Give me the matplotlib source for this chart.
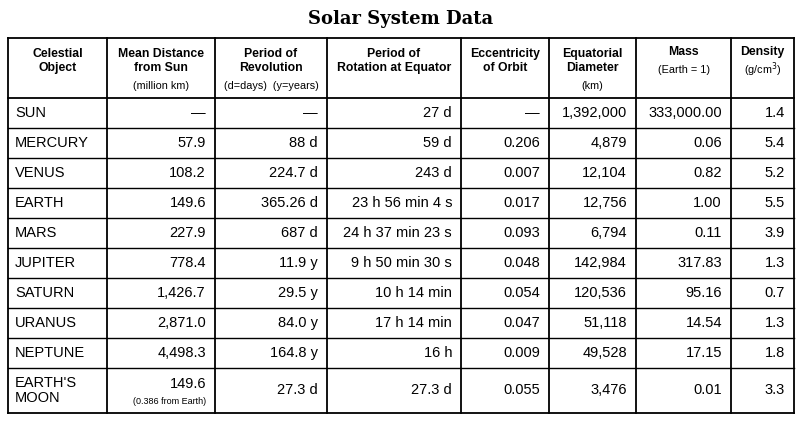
import matplotlib.pyplot as plt

# table contents
headers = ["Celestial\nObject", "Mean Distance\nfrom Sun", "Period of\nRevolution",
           "Period of\nRotation at Equator", "Eccentricity\nof Orbit", "Equatorial\nDiameter",
           "Mass", "Density"]
subheads = ["", "(million km)", "(d=days)  (y=years)", "", "", "(km)", "(Earth = 1)", "(g/cm$^3$)"]
objects = ["SUN", "MERCURY", "VENUS", "EARTH", "MARS", "JUPITER", "SATURN", "URANUS",
           "NEPTUNE", "EARTH'S\nMOON"]
distance = ["—", "57.9", "108.2", "149.6", "227.9", "778.4", "1,426.7", "2,871.0", "4,498.3", "149.6"]
revolution = ["—", "88 d", "224.7 d", "365.26 d", "687 d", "11.9 y", "29.5 y", "84.0 y",
              "164.8 y", "27.3 d"]
rotation = ["27 d", "59 d", "243 d", "23 h 56 min 4 s", "24 h 37 min 23 s", "9 h 50 min 30 s",
            "10 h 14 min", "17 h 14 min", "16 h", "27.3 d"]
eccentricity = ["—", "0.206", "0.007", "0.017", "0.093", "0.048", "0.054", "0.047", "0.009", "0.055"]
diameter = ["1,392,000", "4,879", "12,104", "12,756", "6,794", "142,984", "120,536", "51,118",
            "49,528", "3,476"]
mass = ["333,000.00", "0.06", "0.82", "1.00", "0.11", "317.83", "95.16", "14.54", "17.15", "0.01"]
density = ["1.4", "5.4", "5.2", "5.5", "3.9", "1.3", "0.7", "1.3", "1.8", "3.3"]

columns = [objects, distance, revolution, rotation, eccentricity, diameter, mass, density]

W, H = 802, 425
fig = plt.figure(figsize=(W / 100, H / 100), dpi=100)
ax = fig.add_axes([0, 0, 1, 1])
ax.set_xlim(0, W)
ax.set_ylim(H, 0)
ax.axis("off")

xs = [8, 107, 215, 327, 461, 549, 636, 731, 794]
ys = [38, 98] + [98 + 30 * (i + 1) for i in range(9)] + [413]

ax.text(W / 2, 19, "Solar System Data", ha="center", va="center", fontsize=13,
        fontweight="bold", family="DejaVu Serif")

for x in xs:
    ax.plot([x, x], [ys[0], ys[-1]], color="black", lw=1.3)
for y in ys:
    ax.plot([xs[0], xs[-1]], [y, y], color="black", lw=1.3 if y in (38, 98, 413) else 1.0)

font = "Liberation Sans"
for j, (h, s) in enumerate(zip(headers, subheads)):
    cx = (xs[j] + xs[j + 1]) / 2
    if s and "\n" not in h:
        hy, sy = 52, 70
    elif s:
        hy, sy = 61, 86
    else:
        hy, sy = 61, None
    ax.text(cx, hy, h, ha="center", va="center", fontsize=8.8, fontweight="bold",
            family=font, linespacing=1.25)
    if s:
        ax.text(cx, sy, s, ha="center", va="center", fontsize=7.8, family=font)

for j, col in enumerate(columns):
    for i, val in enumerate(col):
        cy = (ys[i + 1] + ys[i + 2]) / 2
        if j == 0:
            ax.text(xs[0] + 7, cy, val, ha="left", va="center", fontsize=10.5,
                    family=font, linespacing=1.15)
        elif j == 1 and i == len(col) - 1:
            ax.text(xs[2] - 9, cy - 7, val, ha="right", va="center", fontsize=10.5, family=font)
            ax.text(xs[2] - 9, cy + 11, "(0.386 from Earth)", ha="right", va="center",
                    fontsize=6.5, family=font)
        else:
            ax.text(xs[j + 1] - 9, cy, val, ha="right", va="center", fontsize=10.5, family=font)

fig.savefig("out.png", dpi=100)
